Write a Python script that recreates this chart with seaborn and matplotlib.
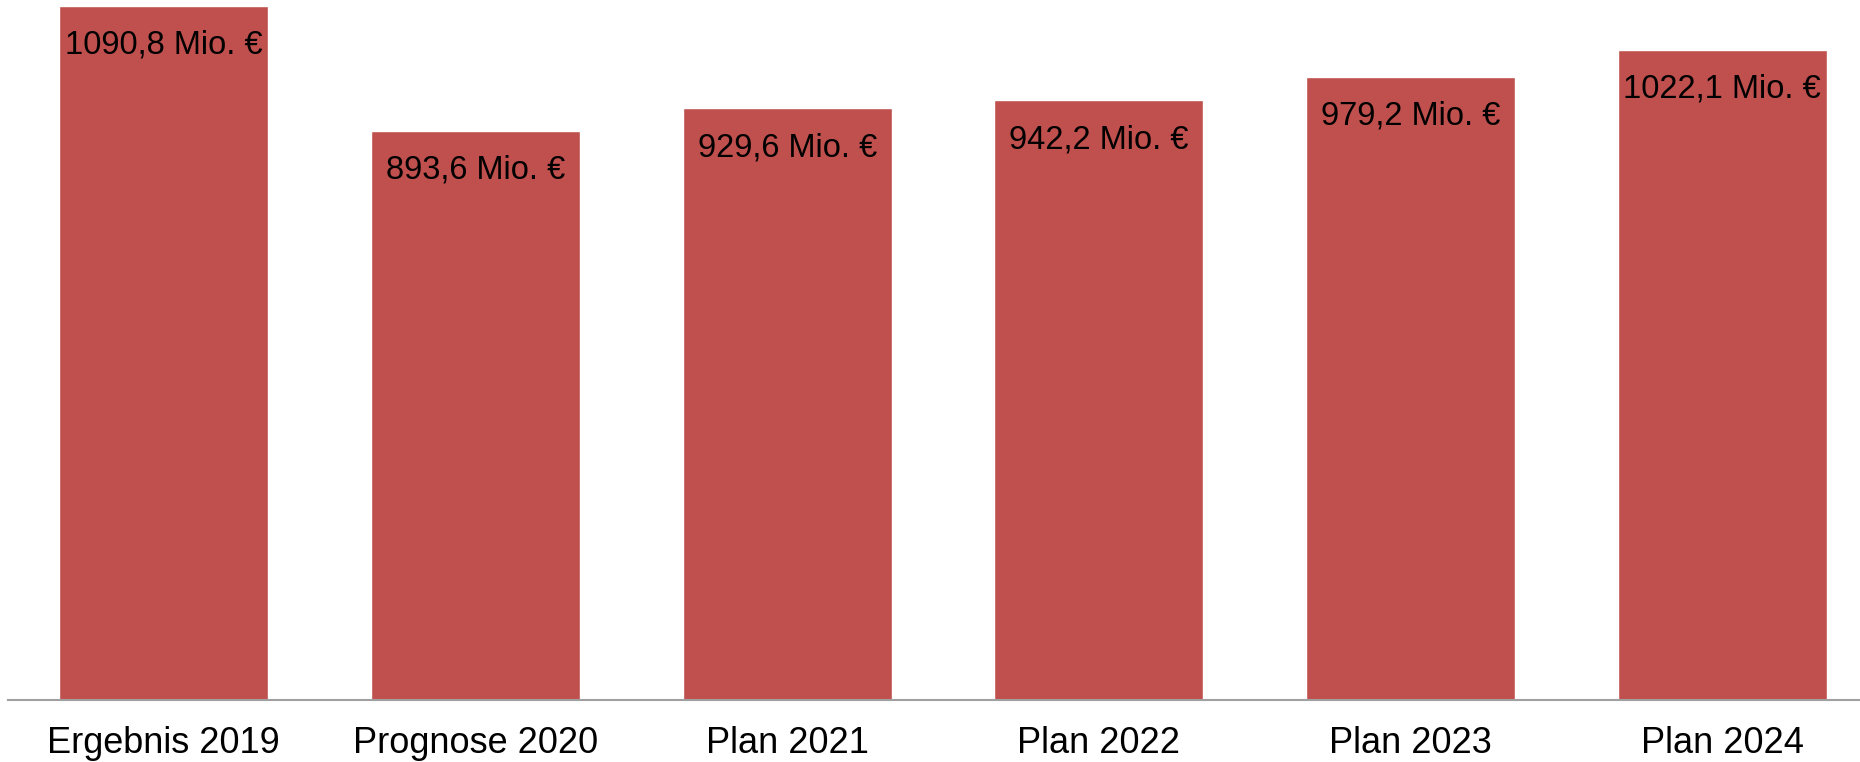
import matplotlib
matplotlib.use("Agg")
import matplotlib.pyplot as plt
import seaborn as sns
import pandas as pd

categories = ["Ergebnis 2019", "Prognose 2020", "Plan 2021", "Plan 2022", "Plan 2023", "Plan 2024"]
values = [1090.8, 893.6, 929.6, 942.2, 979.2, 1022.1]
value_labels = ["1090,8 Mio. €", "893,6 Mio. €", "929,6 Mio. €", "942,2 Mio. €", "979,2 Mio. €", "1022,1 Mio. €"]

df = pd.DataFrame({"cat": categories, "val": values})

sns.set_theme(style="white")
plt.rcParams["font.family"] = ["Liberation Sans", "DejaVu Sans"]

fig = plt.figure(figsize=(18.6, 7.62), dpi=100)
ax = fig.add_axes([8 / 1860, 62 / 762, 1870 / 1860, 700 / 762])

sns.barplot(data=df, x="cat", y="val", color="#C0504D", saturation=1, width=0.67, ax=ax)

ax.set_xlim(-0.5, 5.5)
ax.set_ylim(0, 1100)
for s in ["top", "right", "left"]:
    ax.spines[s].set_visible(False)
ax.spines["bottom"].set_color("#A0A0A0")
ax.spines["bottom"].set_linewidth(1.5)
ax.set_yticks([])
ax.set_xlabel("")
ax.set_ylabel("")
ax.tick_params(axis="x", length=0, pad=19, labelsize=26, labelcolor="black")

for i, (v, lab) in enumerate(zip(values, value_labels)):
    ax.annotate(lab, xy=(i, v), xytext=(0, -17), textcoords="offset points",
                ha="center", va="top", fontsize=23.5, color="black")

fig.savefig("out.png", dpi=100)
